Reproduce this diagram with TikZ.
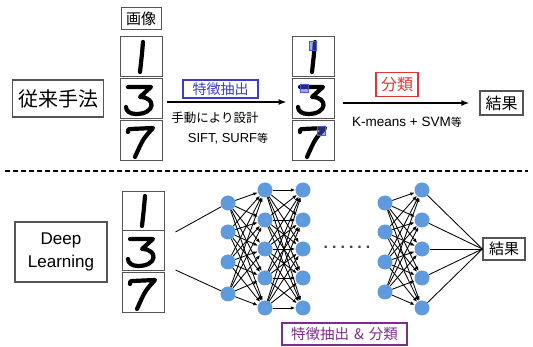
\documentclass[tikz,border=0pt]{standalone}
\usepackage{fontspec}
\setmainfont{Liberation Sans}
\newfontfamily\jp{Noto Sans CJK JP}
\usetikzlibrary{arrows.meta,calc}
\definecolor{boxblue}{RGB}{60,60,200}
\definecolor{boxred}{RGB}{220,55,55}
\definecolor{boxpurple}{RGB}{125,45,140}
\definecolor{neuron}{RGB}{95,155,220}
\definecolor{frame}{RGB}{85,85,85}
\definecolor{mark}{RGB}{70,90,220}
\tikzset{
  frm/.style={draw=frame, line width=1pt, inner sep=0pt},
  imgbox/.style={frm, minimum width=42pt, minimum height=40pt},
  neu/.style={circle, fill=neuron, minimum size=15pt, inner sep=0pt},
  conn/.style={-{Latex[length=4.5pt,width=3.5pt]}, line width=0.85pt},
  plainconn/.style={line width=0.85pt},
  bigarrow/.style={-{Latex[length=8pt,width=6pt]}, line width=1.4pt},
  stroke/.style={line width=4.2pt, line cap=round, line join=round},
  marksq/.style={draw=mark, fill=mark, fill opacity=0.5, line width=0.9pt},
  jpf/.style={font=\jp\fontsize{#1}{#1}\selectfont},
  digitone/.pic={\draw[stroke] (2,-15) .. controls (1,-3) .. (-1,15);},
  digitthree/.pic={\draw[stroke] (-13,-12) -- (10,-12) .. controls (5,-7) .. (-1,-2)
      .. controls (15,-2) and (15,15) .. (-5,15) .. controls (-11,15) and (-15,12) .. (-15,8);},
  digitseven/.pic={\draw[stroke] (-13,-9) .. controls (-13,-12) .. (-10,-12) -- (12,-13)
      .. controls (2,-2) .. (-6,16);},
}
\begin{document}
\begin{tikzpicture}[x=1pt,y=-1pt]
\useasboundingbox[fill=white] (0,0) rectangle (533,347);

% ---------- top: conventional method ----------
\node[frm, line width=1.3pt, minimum width=91pt, minimum height=37pt, jpf=20] (conv) at (58,98.5) {従来手法};
\node[frm, minimum width=40pt, minimum height=22pt, jpf=15] (gazo) at (141,19) {画像};
\node[imgbox] (L1) at (141,57) {};
\node[imgbox] (L3) at (141,99) {};
\node[imgbox] (L7) at (141,141) {};
\pic at (L1.center) {digitone};
\pic at (L3.center) {digitthree};
\pic at (L7.center) {digitseven};

\node[draw=boxblue, line width=1.2pt, inner sep=0pt, minimum width=75pt, minimum height=18pt, text=boxblue, jpf=14] (feat) at (220.5,89) {特徴抽出};
\node[jpf=12.5] (manual) at (215,118) {手動により設計};
\node[font=\fontsize{13}{13}\selectfont] (sift) at (228,139) {SIFT, SURF{\jp\fontsize{11}{11}\selectfont 等}};

\node[imgbox] (M1) at (313,57) {};
\node[imgbox] (M3) at (313,99) {};
\node[imgbox] (M7) at (313,141) {};
\pic at (M1.center) {digitone};
\pic at (M3.center) {digitthree};
\pic at (M7.center) {digitseven};
\draw[marksq] (309,41) rectangle (316,50);
\draw[marksq] (300,84) rectangle (308,92);
\draw[marksq] (317,126) rectangle (325,135);

\draw[bigarrow] ($(L3.east)+(4,3)$) -- ($(M3.west)+(-5,3)$);

\node[draw=boxred, line width=1.2pt, inner sep=0pt, minimum width=42pt, minimum height=24pt, text=boxred, jpf=16] (cls) at (397,84.5) {分類};
\node[font=\fontsize{13.5}{13.5}\selectfont] (kmeans) at (407,122) {K-means + SVM{\jp\fontsize{11}{11}\selectfont 等}};
\node[frm, line width=1.2pt, minimum width=43pt, minimum height=24pt, jpf=16] (res1) at (501.5,103) {結果};
\draw[bigarrow] ($(M3.east)+(8,4)$) -- ($(res1.west)+(-10,0)$);

% ---------- separator ----------
\coordinate (sepL) at (5,171);
\coordinate (sepR) at (528,171);
\draw[line width=1.5pt, dash pattern=on 5pt off 3pt] (sepL) -- (sepR);

% ---------- bottom: deep learning ----------
\node[frm, line width=1.2pt, minimum width=92pt, minimum height=60pt, align=center,
      font=\fontsize{17}{23}\selectfont] (dl) at (61,252) {Deep\\Learning};
\node[imgbox, minimum height=39pt] (B1) at (143,211) {};
\node[imgbox] (B3) at (143,251) {};
\node[imgbox] (B7) at (143,293) {};
\pic at (B1.center) {digitone};
\pic at (B3.center) {digitthree};
\pic at (B7.center) {digitseven};

% layers
\foreach \i/\yy in {1/203,2/232,3/262,4/294} \node[neu] (a\i) at (228,\yy) {};
\foreach \i/\yy in {1/190,2/220,3/249,4/278,5/308} \node[neu] (b\i) at (265,\yy) {};
\foreach \i/\yy in {1/190,2/220,3/249,4/278,5/308} \node[neu] (c\i) at (303,\yy) {};
\foreach \i/\yy in {1/203,2/232,3/262,4/292} \node[neu] (d\i) at (385,\yy) {};
\foreach \i/\yy in {1/190,2/220,3/249,4/278,5/308} \node[neu] (e\i) at (422,\yy) {};

\node[font=\fontsize{16}{16}\selectfont\bfseries, text=black!75] (dots) at (347,247)
  {.\hspace{4pt}.\hspace{4pt}.\hspace{4pt}.\hspace{4pt}.\hspace{4pt}.};

\node[frm, line width=1.2pt, minimum width=42pt, minimum height=22pt, jpf=15] (res2) at (504,249) {結果};

% input lines
\draw[plainconn] ($(B3.east)+(11,-19)$) -- (a1);
\draw[plainconn] ($(B3.east)+(11,19)$) -- (a4);

% connections
\foreach \i in {1,...,4} \foreach \j in {1,...,5} \draw[conn] (a\i) -- (b\j);
\foreach \i in {1,...,5} \foreach \j in {1,...,5} \draw[conn] (b\i) -- (c\j);
\foreach \i in {1,...,4} \foreach \j in {1,...,5} \draw[conn] (d\i) -- (e\j);
\foreach \j in {1,...,5} \draw[plainconn] (e\j) -- (res2.west);

\node[draw=boxpurple, line width=1.2pt, inner sep=0pt, minimum width=125pt, minimum height=22pt, text=boxpurple, jpf=14.5] (fc) at (344.5,334) {特徴抽出\hspace{5pt}\&\hspace{5pt}分類};
\end{tikzpicture}
\end{document}
